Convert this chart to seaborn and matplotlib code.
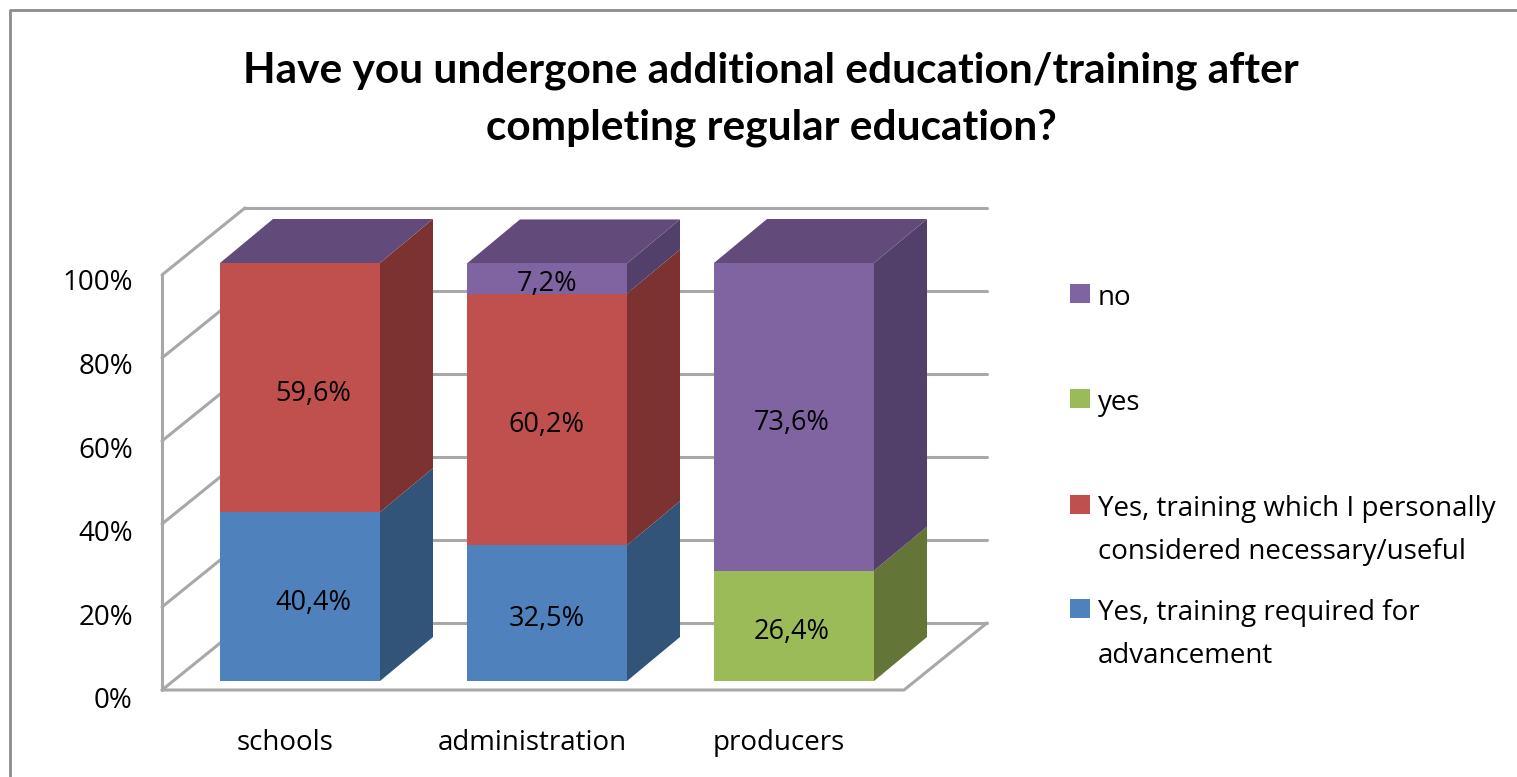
import matplotlib
matplotlib.use('Agg')
import matplotlib.pyplot as plt
from matplotlib.patches import Rectangle
from matplotlib.transforms import ScaledTranslation
import seaborn as sns
import numpy as np

# DATA
categories = ['schools', 'administration', 'producers']
required = [40.4, 32.5, 0]
personal = [59.6, 60.2, 0]
yes = [0, 0, 26.4]
no = [0, 7.2, 73.6]
series_names = ['Yes, training required for\nadvancement',
                'Yes, training which I personally\nconsidered necessary/useful',
                'yes', 'no']
y_ticks = [0, 20, 40, 60, 80, 100]
y_tick_labels = ['0%', '20%', '40%', '60%', '80%', '100%']
title = 'Have you undergone additional education/training after\ncompleting regular education?'

front_colors = ['#4F81BD', '#C0504D', '#9BBB59', '#8064A2']
side_colors = ['#325479', '#7C3230', '#647538', '#523F6A']
top_color = '#624B7A'
wall_color = '#A8A8A8'

W, H = 1517, 777
sns.set_theme(style='white')
plt.rcParams['font.family'] = ['Open Sans', 'DejaVu Sans']

fig = plt.figure(figsize=(W / 100, H / 100), dpi=100)

# axes box in pixels, bars run 0 -> 100 between y=681 and y=263
left, right, top, bottom = 162, 987, 207, 690
ax = fig.add_axes([left / W, 1 - bottom / H, (right - left) / W, (bottom - top) / H])
px_x = 247.0     # pixels per category
px_y = 4.18      # pixels per percent
bar_w = 160 / px_x
dx = 53 / px_x   # depth of the bars
dy = 44 / px_y
wall_dx = 83 / px_x
wall_dy = 67 / px_y
x0 = -(300 - left) / px_x
x1 = x0 + (right - left) / px_x
y0 = -(bottom - 681) / px_y
y1 = (681 - top) / px_y

# walls
wall_kw = dict(color=wall_color, lw=2.2, zorder=1, clip_on=False, solid_capstyle='round')
for v in y_ticks:
    yv = y0 + v * 0.993
    ax.plot([x0, x0 + wall_dx], [yv, yv + wall_dy], **wall_kw)
    ax.plot([x0 + wall_dx, x1], [yv + wall_dy, yv + wall_dy], **wall_kw)
ax.plot([x0, x0], [y0, y0 + 100 * 0.993], **wall_kw)
ax.plot([x0, x1 - wall_dx, x1], [y0, y0, y0 + wall_dy], **wall_kw)

# stacked bars, bottom series first
stack = [required, personal, yes, no]
base = np.zeros(len(categories))
for vals, front, side in zip(stack, front_colors, side_colors):
    vals = np.array(vals, dtype=float)
    sns.barplot(x=categories, y=vals, bottom=base, color=front, saturation=1,
                width=bar_w, errorbar=None, ax=ax, zorder=3, linewidth=0)
    for i in range(len(categories)):
        if vals[i] > 0:
            xr = i + bar_w / 2
            ax.fill([xr, xr + dx, xr + dx, xr],
                    [base[i], base[i] + dy, base[i] + vals[i] + dy, base[i] + vals[i]],
                    color=side, lw=0, zorder=2)
    base = base + vals

# top faces
for i in range(len(categories)):
    xl, xr = i - bar_w / 2, i + bar_w / 2
    ax.fill([xl, xr, xr + dx, xl + dx], [base[i], base[i], base[i] + dy, base[i] + dy],
            color=top_color, lw=0, zorder=2)

# value labels
label_shift = [13 / px_x, 0, -2 / px_x]
base = np.zeros(len(categories))
for vals in stack:
    for i, v in enumerate(vals):
        if v > 0:
            ax.text(i + label_shift[i], base[i] + v / 2 - 6 / px_y, f'{v:.1f}%'.replace('.', ','),
                    ha='center', va='center', fontsize=19.5, color='black', zorder=5)
    base = base + np.array(vals)

ax.set_xlim(x0, x1)
ax.set_ylim(y0, y1)
ax.set_yticks(y_ticks)
ax.set_yticklabels(y_tick_labels)
ax.tick_params(axis='both', length=0, labelsize=20, colors='black')
ax.tick_params(axis='y', pad=21)
ax.tick_params(axis='x', pad=28)
for s in ax.spines.values():
    s.set_visible(False)
ax.patch.set_alpha(0)
ax.set_xlabel('')
ax.set_ylabel('')

# shift tick labels, they sit a little off the marks in the original
for lab in ax.get_yticklabels():
    lab.set_transform(lab.get_transform() + ScaledTranslation(0, -17 / 100, fig.dpi_scale_trans))
for lab in ax.get_xticklabels():
    lab.set_transform(lab.get_transform() + ScaledTranslation(-15 / 100, 0, fig.dpi_scale_trans))

# legend
legend_y = [295, 400, 506, 610]
for name, col, ly in zip(series_names[::-1], front_colors[::-1], legend_y):
    fig.add_artist(Rectangle((1070 / W, 1 - (ly + 8) / H), 20 / W, 19 / H, color=col, lw=0))
    fig.text(1098 / W, 1 - (ly - 11) / H, name, ha='left', va='top', fontsize=20,
             color='black', linespacing=1.72)

fig.text(771 / W, 1 - 99 / H, title, ha='center', va='center', fontsize=30.5,
         fontweight='bold', family=['Lato', 'DejaVu Sans'], color='black', linespacing=1.6)

# chart frame, only top and left are in the crop
fig.add_artist(plt.Line2D([10 / W, 10 / W, 1], [0, 1 - 10 / H, 1 - 10 / H],
                          color='#8C8C8C', lw=2))

fig.savefig('out.png', dpi=100, facecolor='white')
